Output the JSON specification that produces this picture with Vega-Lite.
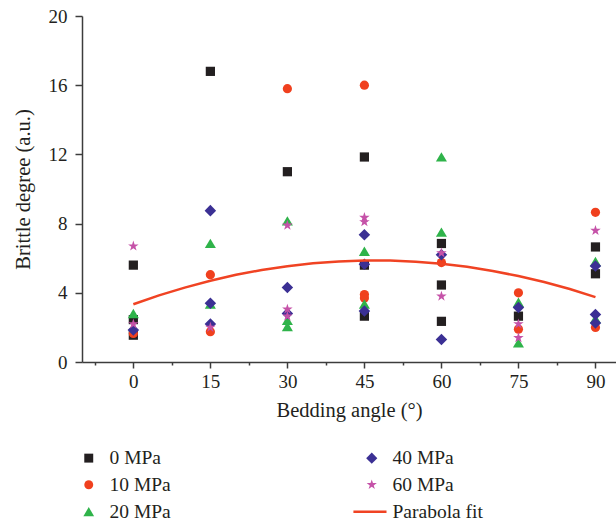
{
  "$schema": "https://vega.github.io/schema/vega-lite/v6.json",
  "width": 534,
  "height": 346,
  "autosize": "none",
  "padding": {"left": 82, "top": 16, "right": 0, "bottom": 165},
  "background": "white",
  "config": {"view": {"stroke": null}, "font": "Liberation Serif"},
  "datasets": {
    "points": [
      {"series": "0 MPa", "angle": 0, "brittle": 5.6},
      {"series": "0 MPa", "angle": 0, "brittle": 2.45},
      {"series": "0 MPa", "angle": 0, "brittle": 1.55},
      {"series": "0 MPa", "angle": 15, "brittle": 16.8},
      {"series": "0 MPa", "angle": 30, "brittle": 11.0},
      {"series": "0 MPa", "angle": 45, "brittle": 11.85},
      {"series": "0 MPa", "angle": 45, "brittle": 5.6},
      {"series": "0 MPa", "angle": 45, "brittle": 2.65},
      {"series": "0 MPa", "angle": 60, "brittle": 6.85},
      {"series": "0 MPa", "angle": 60, "brittle": 4.45},
      {"series": "0 MPa", "angle": 60, "brittle": 2.35},
      {"series": "0 MPa", "angle": 75, "brittle": 2.65},
      {"series": "0 MPa", "angle": 90, "brittle": 6.65},
      {"series": "0 MPa", "angle": 90, "brittle": 5.1},
      {"series": "10 MPa", "angle": 0, "brittle": 1.65},
      {"series": "10 MPa", "angle": 15, "brittle": 5.05},
      {"series": "10 MPa", "angle": 15, "brittle": 1.75},
      {"series": "10 MPa", "angle": 30, "brittle": 15.8},
      {"series": "10 MPa", "angle": 45, "brittle": 16.0},
      {"series": "10 MPa", "angle": 45, "brittle": 3.9},
      {"series": "10 MPa", "angle": 45, "brittle": 3.7},
      {"series": "10 MPa", "angle": 60, "brittle": 5.75},
      {"series": "10 MPa", "angle": 75, "brittle": 4.0},
      {"series": "10 MPa", "angle": 75, "brittle": 1.9},
      {"series": "10 MPa", "angle": 90, "brittle": 8.65},
      {"series": "10 MPa", "angle": 90, "brittle": 2.0},
      {"series": "20 MPa", "angle": 0, "brittle": 2.8},
      {"series": "20 MPa", "angle": 15, "brittle": 6.85},
      {"series": "20 MPa", "angle": 15, "brittle": 3.35},
      {"series": "20 MPa", "angle": 30, "brittle": 8.15},
      {"series": "20 MPa", "angle": 30, "brittle": 2.4},
      {"series": "20 MPa", "angle": 30, "brittle": 2.05},
      {"series": "20 MPa", "angle": 45, "brittle": 6.4},
      {"series": "20 MPa", "angle": 45, "brittle": 3.35},
      {"series": "20 MPa", "angle": 60, "brittle": 11.85},
      {"series": "20 MPa", "angle": 60, "brittle": 7.5},
      {"series": "20 MPa", "angle": 75, "brittle": 3.45},
      {"series": "20 MPa", "angle": 75, "brittle": 1.1},
      {"series": "20 MPa", "angle": 90, "brittle": 5.8},
      {"series": "20 MPa", "angle": 90, "brittle": 2.5},
      {"series": "40 MPa", "angle": 0, "brittle": 1.85},
      {"series": "40 MPa", "angle": 15, "brittle": 8.75},
      {"series": "40 MPa", "angle": 15, "brittle": 3.4},
      {"series": "40 MPa", "angle": 15, "brittle": 2.2},
      {"series": "40 MPa", "angle": 30, "brittle": 4.3},
      {"series": "40 MPa", "angle": 30, "brittle": 2.8},
      {"series": "40 MPa", "angle": 45, "brittle": 7.35},
      {"series": "40 MPa", "angle": 45, "brittle": 5.65},
      {"series": "40 MPa", "angle": 45, "brittle": 2.95},
      {"series": "40 MPa", "angle": 60, "brittle": 6.2},
      {"series": "40 MPa", "angle": 60, "brittle": 1.3},
      {"series": "40 MPa", "angle": 75, "brittle": 3.15},
      {"series": "40 MPa", "angle": 90, "brittle": 5.55},
      {"series": "40 MPa", "angle": 90, "brittle": 2.75},
      {"series": "40 MPa", "angle": 90, "brittle": 2.25},
      {"series": "60 MPa", "angle": 0, "brittle": 6.7},
      {"series": "60 MPa", "angle": 0, "brittle": 2.2},
      {"series": "60 MPa", "angle": 15, "brittle": 2.0},
      {"series": "60 MPa", "angle": 30, "brittle": 7.9},
      {"series": "60 MPa", "angle": 30, "brittle": 3.05},
      {"series": "60 MPa", "angle": 30, "brittle": 2.65},
      {"series": "60 MPa", "angle": 45, "brittle": 8.35},
      {"series": "60 MPa", "angle": 45, "brittle": 8.1},
      {"series": "60 MPa", "angle": 60, "brittle": 6.3},
      {"series": "60 MPa", "angle": 60, "brittle": 3.8},
      {"series": "60 MPa", "angle": 75, "brittle": 2.2},
      {"series": "60 MPa", "angle": 75, "brittle": 1.4},
      {"series": "60 MPa", "angle": 90, "brittle": 7.6}
    ],
    "fit": [
      {"angle": 0, "brittle": 3.34},
      {"angle": 5, "brittle": 3.85},
      {"angle": 10, "brittle": 4.3},
      {"angle": 15, "brittle": 4.7},
      {"angle": 20, "brittle": 5.04},
      {"angle": 25, "brittle": 5.32},
      {"angle": 30, "brittle": 5.54},
      {"angle": 35, "brittle": 5.71},
      {"angle": 40, "brittle": 5.81},
      {"angle": 45, "brittle": 5.87},
      {"angle": 50, "brittle": 5.86},
      {"angle": 55, "brittle": 5.8},
      {"angle": 60, "brittle": 5.68},
      {"angle": 65, "brittle": 5.5},
      {"angle": 70, "brittle": 5.26},
      {"angle": 75, "brittle": 4.97},
      {"angle": 80, "brittle": 4.62},
      {"angle": 85, "brittle": 4.22},
      {"angle": 90, "brittle": 3.75}
    ]
  },
  "layer": [
    {
      "data": {"name": "points"},
      "mark": {"type": "point", "filled": true, "size": 85, "opacity": 1, "strokeWidth": 0},
      "encoding": {
        "x": {
          "field": "angle", "type": "quantitative",
          "scale": {"domain": [-10, 94], "nice": false, "zero": false},
          "axis": {
            "title": "Bedding angle (°)",
            "values": [-7.5, 0, 7.5, 15, 22.5, 30, 37.5, 45, 52.5, 60, 67.5, 75, 82.5, 90],
            "labelExpr": "datum.value % 15 === 0 ? datum.label : ''",
            "tickSize": {"condition": {"test": "datum.value % 15 === 0", "value": 6}, "value": 3},
            "grid": false, "labelOverlap": false, "labelFlush": false,
            "labelFont": "Liberation Serif", "titleFont": "Liberation Serif",
            "labelFontSize": 19, "titleFontSize": 20.5, "titleFontWeight": "normal",
            "labelColor": "#231f20", "titleColor": "#231f20",
            "domainColor": "#3c3c3c", "tickColor": "#3c3c3c", "domainWidth": 1.5, "tickWidth": 1.5,
            "labelPadding": 4, "titlePadding": 9
          }
        },
        "y": {
          "field": "brittle", "type": "quantitative",
          "scale": {"domain": [0, 20], "nice": false},
          "axis": {
            "title": "Brittle degree (a.u.)",
            "values": [0, 2, 4, 6, 8, 10, 12, 14, 16, 18, 20],
            "labelExpr": "datum.value % 4 === 0 ? datum.label : ''",
            "tickSize": {"condition": {"test": "datum.value % 4 === 0", "value": 7}, "value": 3.5},
            "grid": false, "labelOverlap": false, "labelFlush": false,
            "labelFont": "Liberation Serif", "titleFont": "Liberation Serif",
            "labelFontSize": 19, "titleFontSize": 20.5, "titleFontWeight": "normal",
            "labelColor": "#231f20", "titleColor": "#231f20",
            "domainColor": "#3c3c3c", "tickColor": "#3c3c3c", "domainWidth": 1.5, "tickWidth": 1.5,
            "labelPadding": 8, "titlePadding": 15
          }
        },
        "color": {
          "field": "series", "type": "nominal",
          "scale": {
            "domain": ["0 MPa", "10 MPa", "20 MPa", "40 MPa", "60 MPa", "Parabola fit"],
            "range": ["#231f20", "#f0401e", "#2fb34a", "#3b3094", "#c552a8", "#f04323"]
          },
          "legend": {
            "title": null, "orient": "none", "legendX": -3, "legendY": 432,
            "columns": 2, "padding": 0, "columnPadding": 182, "rowPadding": 6,
            "labelFont": "Liberation Serif", "labelFontSize": 19.5, "labelColor": "#231f20",
            "labelOffset": 11, "symbolSize": 80, "symbolStrokeWidth": 0, "symbolOpacity": 1,
            "labelLimit": 300
          }
        },
        "shape": {
          "field": "series", "type": "nominal",
          "scale": {
            "domain": ["0 MPa", "10 MPa", "20 MPa", "40 MPa", "60 MPa", "Parabola fit"],
            "range": ["square", "circle", "M0,-1.05L1.2,1L-1.2,1Z", "M0,-1.25L1.25,0L0,1.25L-1.25,0Z", "M0,-1.2L0.27,-0.371L1.141,-0.371L0.436,0.142L0.706,0.971L0,0.458L-0.706,0.971L-0.436,0.142L-1.141,-0.371L-0.27,-0.371Z", "M-4.1,-0.28H3.3V0.28H-4.1Z"]
          }
        }
      }
    },
    {
      "data": {"name": "fit"},
      "mark": {"type": "line", "color": "#f04323", "strokeWidth": 2.5},
      "encoding": {
        "x": {"field": "angle", "type": "quantitative", "title": "Bedding angle (°)"},
        "y": {"field": "brittle", "type": "quantitative", "title": "Brittle degree (a.u.)"}
      }
    }
  ]
}
